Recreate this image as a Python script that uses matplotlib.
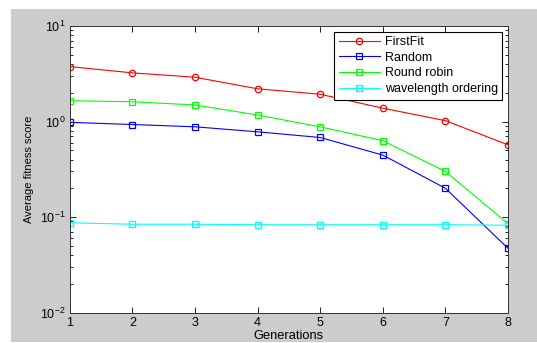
import matplotlib
matplotlib.use("Agg")
import matplotlib.pyplot as plt
from matplotlib.patches import Rectangle
from matplotlib.ticker import LogLocator

plt.rcParams['font.family'] = ['Liberation Sans', 'DejaVu Sans']

generations = [1, 2, 3, 4, 5, 6, 7, 8]
first_fit = [3.76, 3.23, 2.91, 2.20, 1.93, 1.38, 1.02, 0.57]
random_sel = [0.98, 0.93, 0.88, 0.78, 0.68, 0.445, 0.20, 0.047]
round_robin = [1.65, 1.61, 1.49, 1.17, 0.88, 0.63, 0.30, 0.085]
wl_ordering = [0.087, 0.084, 0.084, 0.083, 0.083, 0.083, 0.083, 0.082]

fig = plt.figure(figsize=(5.37, 3.43), dpi=100, facecolor='white')
# grey panel behind the axes, like a MATLAB figure window
fig.patches.append(Rectangle((11 / 537, 1 - 342 / 343), 1 - 11 / 537, (342 - 9) / 343,
                             transform=fig.transFigure, facecolor='#cccccc',
                             edgecolor='none', zorder=-10))

ax = fig.add_axes([69.7 / 537, 1 - 312.5 / 343, (508 - 69.7) / 537, (312.5 - 26) / 343])
ax.set_facecolor('white')

ms = 4.6
lw = 0.8
mew = 0.9
ax.plot(generations, first_fit, color='#ff0000', marker='o', mfc='none', ms=ms, lw=lw, mew=mew, label='FirstFit')
ax.plot(generations, random_sel, color='#0000ff', marker='s', mfc='none', ms=ms, lw=lw, mew=mew, label='Random')
ax.plot(generations, round_robin, color='#00ff00', marker='s', mfc='none', ms=ms, lw=lw, mew=mew, label='Round robin')
ax.plot(generations, wl_ordering, color='#00ffff', marker='s', mfc='none', ms=ms, lw=lw, mew=mew, label='wavelength ordering')

ax.set_yscale('log')
ax.set_ylim(1e-2, 1e1)
ax.set_xlim(1, 8)
ax.set_xticks(generations)
ax.yaxis.set_major_locator(LogLocator(base=10, numticks=10))
ax.yaxis.set_minor_locator(LogLocator(base=10, subs=range(2, 10), numticks=10))

ax.tick_params(which='both', direction='in', top=True, right=True, labelsize=9, pad=3)
ax.tick_params(which='major', length=4, width=0.6)
ax.tick_params(which='minor', length=2.2, width=0.6)
for s in ax.spines.values():
    s.set_linewidth(0.7)
    s.set_color('#333333')

ax.set_xlabel('Generations', fontsize=9.3, labelpad=1)
ax.set_ylabel('Average fitness score', fontsize=8, labelpad=4)

leg = ax.legend(loc='upper right', fontsize=9, fancybox=False, framealpha=1,
                edgecolor='black', handlelength=3.3, borderaxespad=0.45,
                labelspacing=0.3, borderpad=0.35, handletextpad=0.4)
leg.get_frame().set_linewidth(0.8)

fig.savefig('out.png', dpi=100, facecolor=fig.get_facecolor())
